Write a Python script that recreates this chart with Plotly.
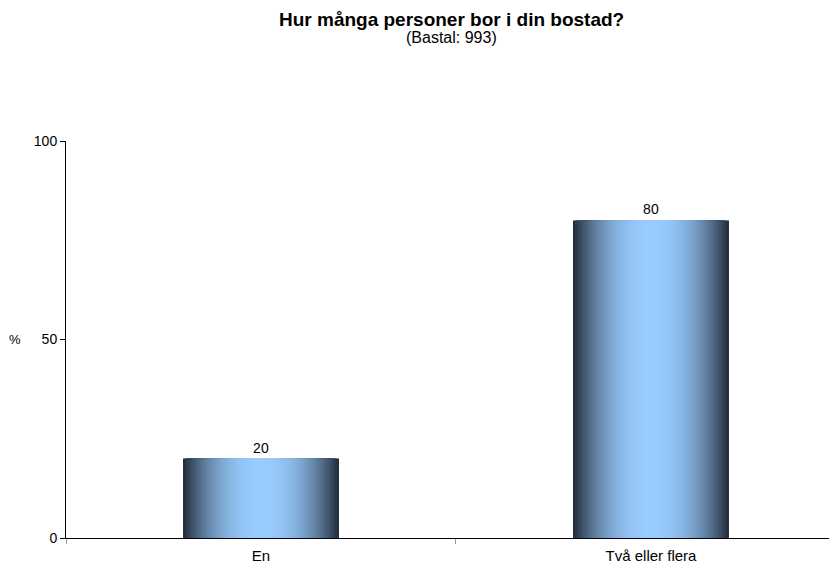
import plotly.graph_objects as go

categories = ["En", "Två eller flera"]
values = [20, 80]
title_text = "Hur många personer bor i din bostad?"
subtitle_text = "(Bastal: 993)"
y_ticks = [0, 50, 100]

FONT = "Liberation Sans, Arial, sans-serif"
dark = (36, 46, 60)
light = (153, 204, 255)
N = 40
full_w = 0.4

fig = go.Figure()
for i in range(N):
    t = 1 - i / N  # 1 at outer edge, ->0 at center
    f = t ** 2.2
    c = tuple(round(light[k] * (1 - f) + dark[k] * f) for k in range(3))
    w = full_w * t
    fig.add_trace(go.Bar(
        x=categories, y=values, width=[w] * len(values),
        marker=dict(color="rgb(%d,%d,%d)" % c, line=dict(width=0)),
        text=[str(v) for v in values] if i == 0 else None,
        textposition="outside" if i == 0 else "none",
        textfont=dict(family=FONT, size=14, color="#000"),
        cliponaxis=False,
        hoverinfo="skip", showlegend=False,
    ))

# page body adds an 8px offset; compensate so the plot lands where the reference has it
fig.update_layout(
    barmode="overlay",
    width=829, height=556,
    margin=dict(l=58, r=0, t=133, b=26, autoexpand=False),
    paper_bgcolor="white", plot_bgcolor="white",
    font=dict(family=FONT, size=14, color="#000"),
    xaxis=dict(
        type="category", range=[-0.5, 1.477],
        showline=True, linecolor="#000", linewidth=1,
        ticks="outside", tickson="boundaries", ticklen=5, tickcolor="#999",
        showgrid=False, zeroline=False, ticklabelstandoff=4,
        tickfont=dict(family=FONT, size=15, color="#000"),
    ),
    yaxis=dict(
        range=[0, 100], tickvals=y_ticks,
        showline=True, linecolor="#000", linewidth=1,
        ticks="outside", ticklen=5, tickcolor="#000",
        showgrid=False, zeroline=False,
        tickfont=dict(family=FONT, size=14, color="#000"),
    ),
    annotations=[
        dict(text="<b>" + title_text + "</b>", xref="paper", yref="paper",
             x=0.5, y=1.307, showarrow=False, yanchor="middle",
             font=dict(family=FONT, size=19, color="#000")),
        dict(text=subtitle_text, xref="paper", yref="paper",
             x=0.5, y=1.26, showarrow=False, yanchor="middle",
             font=dict(family=FONT, size=16, color="#000")),
        dict(text="%", xref="paper", yref="y", x=-0.066, y=50,
             showarrow=False, xanchor="center", yanchor="middle",
             font=dict(family=FONT, size=13, color="#000")),
    ],
)

fig.write_html("out.html")
